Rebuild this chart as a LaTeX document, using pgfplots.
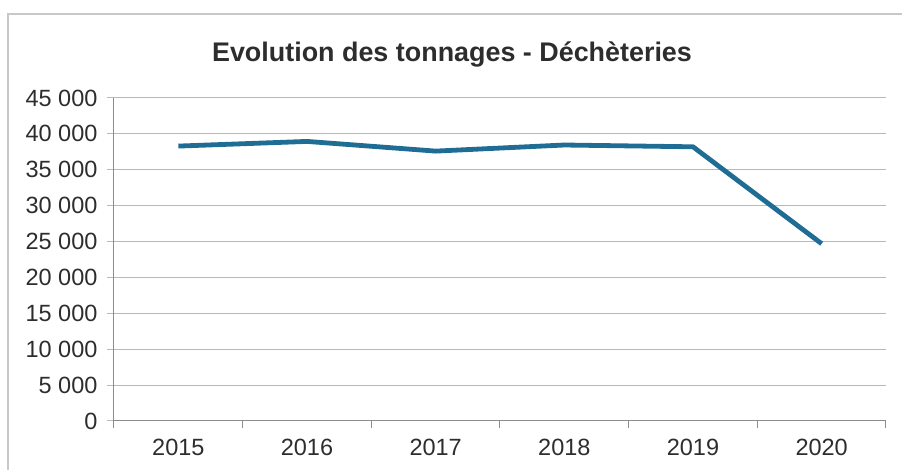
\documentclass[border=0pt]{standalone}
\usepackage{fontspec}
\setmainfont{Liberation Sans}
\usepackage{pgfplots}
\pgfplotsset{compat=1.18}
\definecolor{linecol}{RGB}{31,108,148}
\definecolor{gridcol}{RGB}{185,185,185}
\definecolor{axiscol}{RGB}{140,140,140}
\definecolor{framecol}{RGB}{200,200,200}
\definecolor{txtcol}{RGB}{45,45,45}
\begin{document}
\begin{tikzpicture}[x=1pt,y=1pt]
\useasboundingbox (-114,-49) rectangle (788,421);
\draw[framecol, line width=1.5pt] (-106,-49) -- (-106,407) -- (788,407);
\node[font=\fontsize{26.9}{31}\selectfont\bfseries, text=txtcol] at (338,367) {Evolution des tonnages - Déchèteries};
\begin{axis}[
  at={(0,0)}, anchor=south west,
  scale only axis, width=772pt, height=323pt,
  xmin=-0.5, xmax=5.5, ymin=0, ymax=45000,
  axis x line*=bottom, axis y line*=left,
  axis line style={axiscol, line width=1pt, -},
  xtick={0,1,2,3,4,5}, xticklabels={2015,2016,2017,2018,2019,2020},
  minor xtick={-0.5,0.5,1.5,2.5,3.5,4.5,5.5},
  ytick={0,5000,...,45000},
  ymajorgrids, grid style={gridcol, line width=1pt},
  tick align=outside,
  major tick length=7pt, minor tick length=7pt,
  major x tick style={draw=none},
  minor x tick style={axiscol, line width=1pt},
  y tick style={gridcol, line width=1pt},
  scaled y ticks=false,
  /pgf/number format/.cd, fixed, 1000 sep={\ }, assume math mode=true,
  /pgfplots/.cd,
  ticklabel style={font=\fontsize{23.5}{27}\selectfont, text=txtcol},
  yticklabel style={xshift=-6pt},
  xticklabel style={yshift=-8pt},
  clip=false,
]
\addplot[linecol, line width=4.8pt, line join=round] coordinates {
  (0,38300) (1,38950) (2,37600) (3,38450) (4,38200) (5,24700)
};
\end{axis}
\end{tikzpicture}
\end{document}
